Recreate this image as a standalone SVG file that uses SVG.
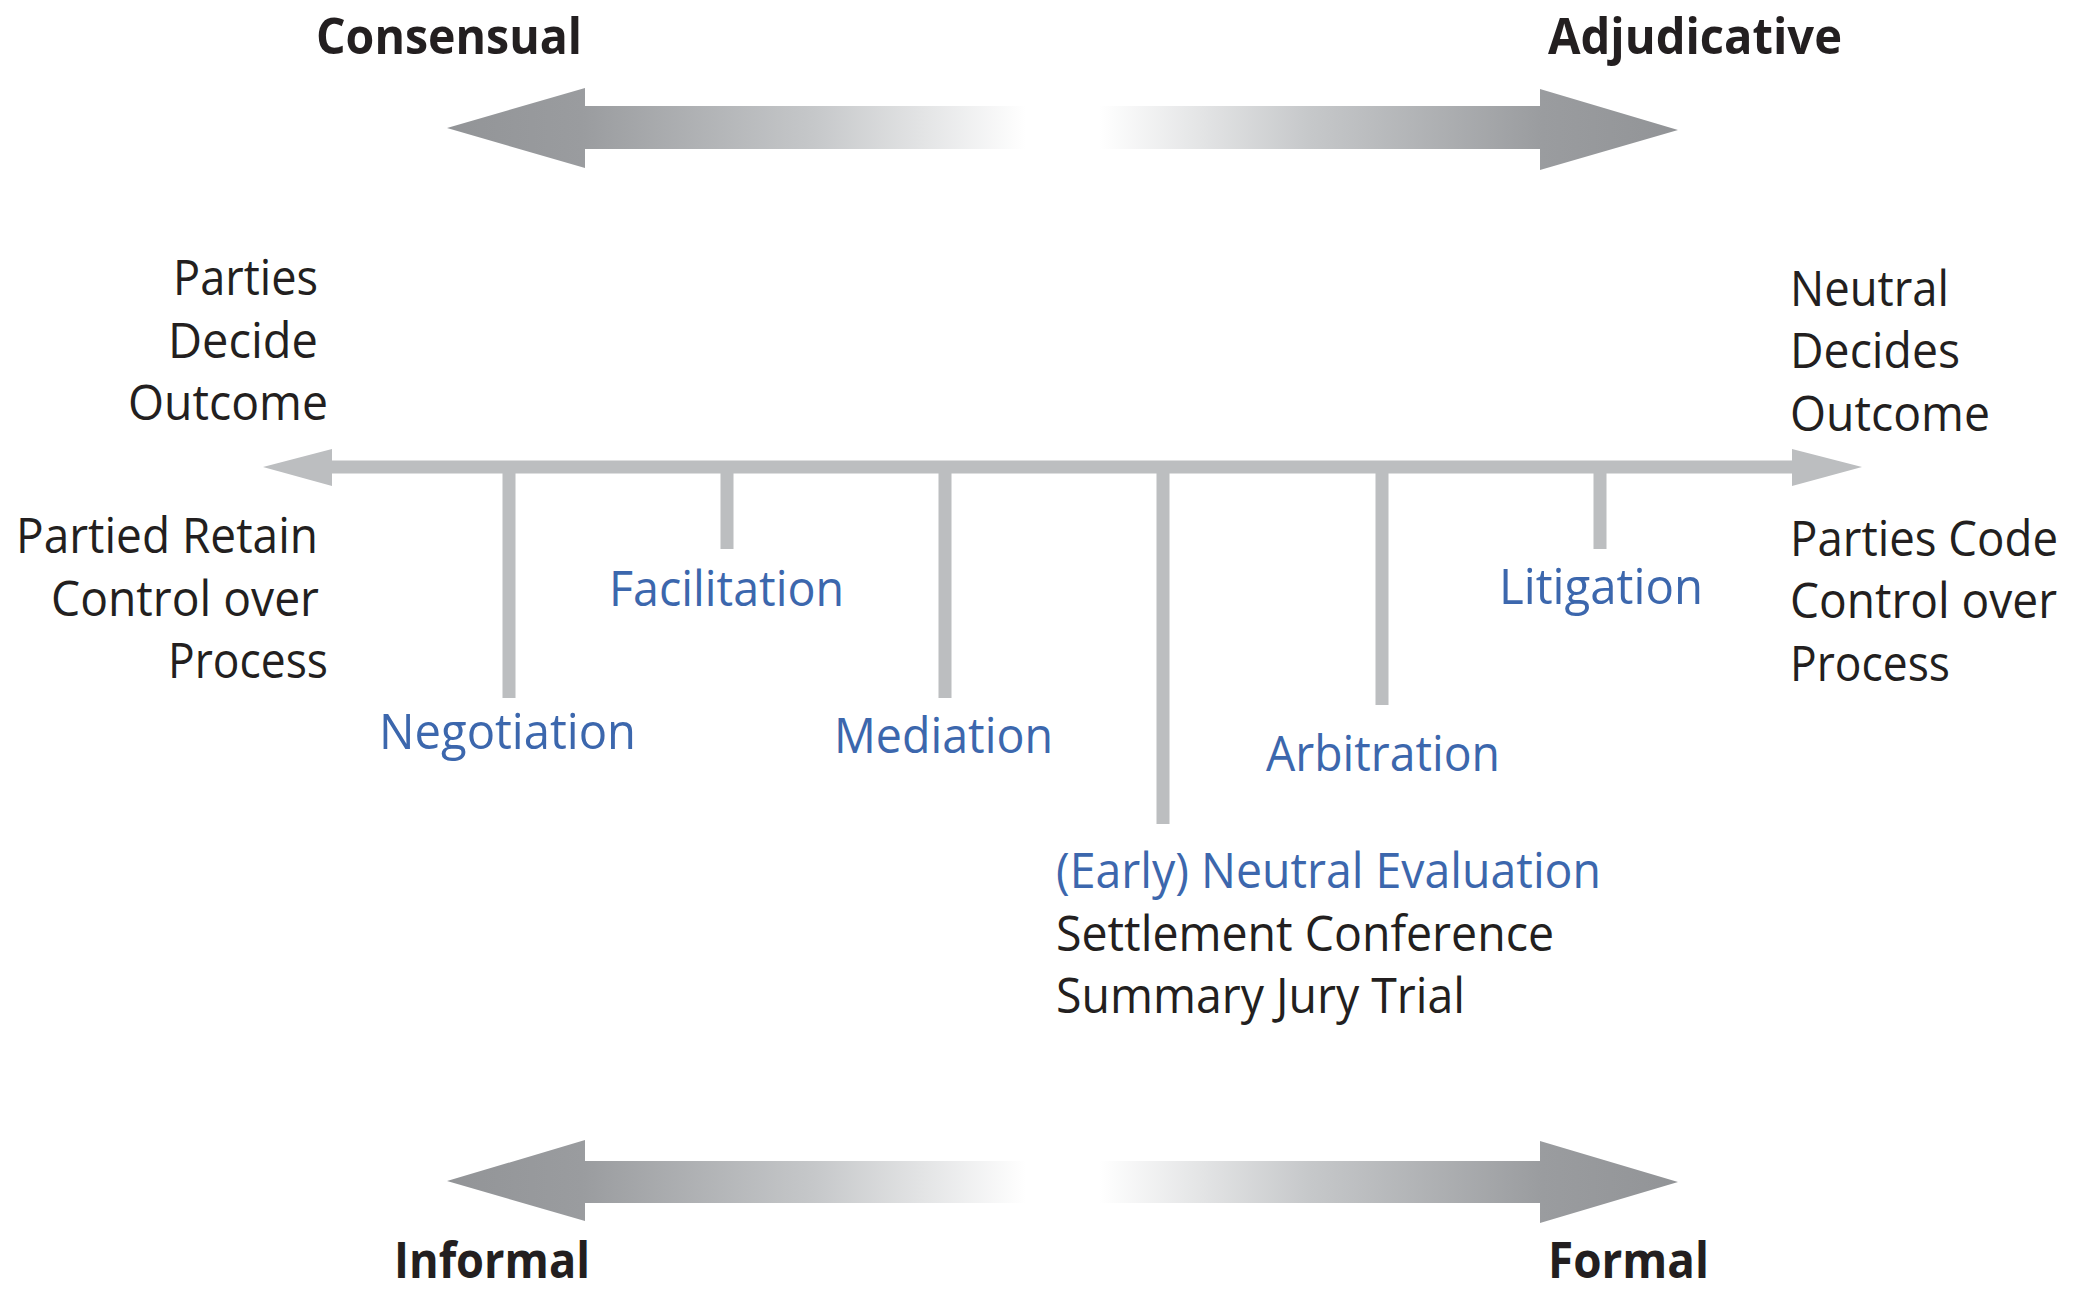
<svg xmlns="http://www.w3.org/2000/svg" width="2085" height="1293" viewBox="0 0 2085 1293">
<defs>
<linearGradient id="fade" gradientUnits="userSpaceOnUse" x1="447" y1="0" x2="1678" y2="0">
<stop offset="0" stop-color="#929497"/>
<stop offset="0.11" stop-color="#9a9c9f"/>
<stop offset="0.3" stop-color="#c6c8ca"/>
<stop offset="0.47" stop-color="#ffffff"/>
<stop offset="0.53" stop-color="#ffffff"/>
<stop offset="0.7" stop-color="#c6c8ca"/>
<stop offset="0.89" stop-color="#9a9c9f"/>
<stop offset="1" stop-color="#929497"/>
</linearGradient>
<style>
.t{font-family:"Open Sans","Liberation Sans",sans-serif;font-size:49px;fill:#231f20}
.b{font-family:"Open Sans","Liberation Sans",sans-serif;font-size:50px;font-weight:bold;fill:#231f20}
.blue{fill:#3c67ad}
.line{stroke:#bcbec0;stroke-width:13;fill:none}
.head{fill:#bcbec0}
.big{fill:url(#fade)}
</style>
</defs>
<rect width="2085" height="1293" fill="#ffffff"/>

<g id="scale-top">
<polygon class="big" points="447,128 585,88 585,106 1540,106 1540,89 1678,130 1540,170 1540,149 585,149 585,168"/>
<text class="b" x="316" y="54" textLength="266" lengthAdjust="spacingAndGlyphs">Consensual</text>
<text class="b" x="1548" y="54" textLength="294" lengthAdjust="spacingAndGlyphs">Adjudicative</text>
</g>

<g id="scale-bottom">
<polygon class="big" points="447,1181 585,1140 585,1161 1540,1161 1540,1141 1678,1182 1540,1223 1540,1203 585,1203 585,1221"/>
<text class="b" x="394" y="1278" textLength="196" lengthAdjust="spacingAndGlyphs">Informal</text>
<text class="b" x="1548" y="1278" textLength="161" lengthAdjust="spacingAndGlyphs">Formal</text>
</g>

<g id="connectors">
<line class="line" x1="320" y1="467" x2="1800" y2="467"/>
<polygon class="head" points="263,467 332,449 332,486"/>
<polygon class="head" points="1862,467 1792,449 1792,486"/>
<line class="line" x1="509" y1="467" x2="509" y2="698"/>
<line class="line" x1="727" y1="467" x2="727" y2="549"/>
<line class="line" x1="945" y1="467" x2="945" y2="698"/>
<line class="line" x1="1163" y1="467" x2="1163" y2="824"/>
<line class="line" x1="1382" y1="467" x2="1382" y2="705"/>
<line class="line" x1="1600" y1="467" x2="1600" y2="549"/>
</g>

<g id="left-labels">
<text class="t" x="318" y="295" text-anchor="end" textLength="145" lengthAdjust="spacingAndGlyphs">Parties</text>
<text class="t" x="318" y="358" text-anchor="end" textLength="150" lengthAdjust="spacingAndGlyphs">Decide</text>
<text class="t" x="328" y="420" text-anchor="end" textLength="200" lengthAdjust="spacingAndGlyphs">Outcome</text>
<text class="t" x="318" y="553" text-anchor="end" textLength="302" lengthAdjust="spacingAndGlyphs">Partied Retain</text>
<text class="t" x="319" y="616" text-anchor="end" textLength="268" lengthAdjust="spacingAndGlyphs">Control over</text>
<text class="t" x="328" y="678" text-anchor="end" textLength="160" lengthAdjust="spacingAndGlyphs">Process</text>
</g>

<g id="right-labels">
<text class="t" x="1790" y="306" textLength="159" lengthAdjust="spacingAndGlyphs">Neutral</text>
<text class="t" x="1790" y="368" textLength="170" lengthAdjust="spacingAndGlyphs">Decides</text>
<text class="t" x="1790" y="431" textLength="200" lengthAdjust="spacingAndGlyphs">Outcome</text>
<text class="t" x="1790" y="556" textLength="268" lengthAdjust="spacingAndGlyphs">Parties Code</text>
<text class="t" x="1790" y="618" textLength="267" lengthAdjust="spacingAndGlyphs">Control over</text>
<text class="t" x="1790" y="681" textLength="160" lengthAdjust="spacingAndGlyphs">Process</text>
</g>

<g id="negotiation"><text class="t blue" x="379" y="749" textLength="257" lengthAdjust="spacingAndGlyphs">Negotiation</text></g>
<g id="facilitation"><text class="t blue" x="609" y="606" textLength="235" lengthAdjust="spacingAndGlyphs">Facilitation</text></g>
<g id="mediation"><text class="t blue" x="834" y="753" textLength="219" lengthAdjust="spacingAndGlyphs">Mediation</text></g>
<g id="neutral-evaluation">
<text class="t blue" x="1056" y="888" textLength="545" lengthAdjust="spacingAndGlyphs">(Early) Neutral Evaluation</text>
<text class="t" x="1056" y="951" textLength="498" lengthAdjust="spacingAndGlyphs">Settlement Conference</text>
<text class="t" x="1056" y="1013" textLength="409" lengthAdjust="spacingAndGlyphs">Summary Jury Trial</text>
</g>
<g id="arbitration"><text class="t blue" x="1266" y="771" textLength="234" lengthAdjust="spacingAndGlyphs">Arbitration</text></g>
<g id="litigation"><text class="t blue" x="1499" y="604" textLength="204" lengthAdjust="spacingAndGlyphs">Litigation</text></g>
</svg>
